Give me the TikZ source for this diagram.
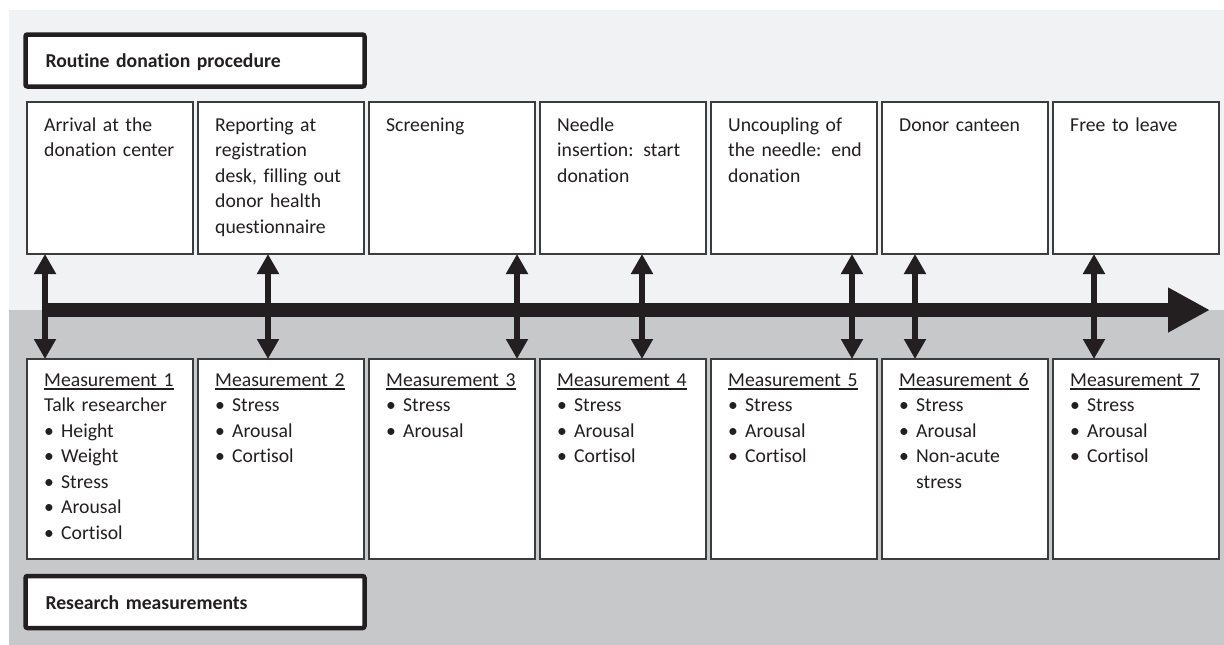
\documentclass[tikz,border=0pt]{standalone}
\usepackage{fontspec}
\setmainfont{Carlito}[Ligatures = NoCommon]
\usetikzlibrary{arrows.meta}
\definecolor{bgtop}{HTML}{F1F2F4}
\definecolor{bgbot}{HTML}{C7C8CA}
\definecolor{ink}{HTML}{231F20}
\definecolor{edge}{HTML}{3C3C3C}
\newcommand\fs{\fontsize{19.7}{25.5}\selectfont}
\newcommand\itm[1]{\makebox[17pt][l]{\textbullet}#1}
\newcommand\uln[1]{\setbox0\hbox{#1}\rlap{\rule[-3.5pt]{\wd0}{1.6pt}}\box0}
\tikzset{stepbox/.style = {draw = edge, line width = 1.3pt, fill = white, minimum width = 166pt, inner sep = 0, outer sep = 0, anchor = north west}}
\tikzset{txt/.style = {anchor = north west, inner sep = 0, text width = 150pt, align = left, text = ink, font = \fs, execute at begin node = \rule{0pt}{20pt}}}
\tikzset{titlebox/.style = {draw = ink, line width = 4.5pt, rounded corners = 2pt, fill = white, anchor = north west, outer sep = 0, minimum height = 52pt, text width = 299pt, inner xsep = 20pt, align = left, text height = 14pt, text depth = 0pt, font = \fs\bfseries, text = ink}}
\tikzset{dbl/.style = {draw = ink, line width = 6pt, > = {Triangle[width = 21pt, length = 20pt]}, <->}}

\begin{document}
\begin{tikzpicture}[x = 1pt, y = -1pt]
    \useasboundingbox (0, 0) rectangle (1224, 645);
    \fill[bgtop] (9, 10) rectangle (1224, 310);
    \fill[bgbot] (9, 310) rectangle (1224, 645);

    \node[titlebox] (rdp) at (25.5, 34.5) {Routine donation procedure};
    \node[titlebox] (rm) at (25.5, 576) {Research measurements};

    \foreach \i in {1,...,7} {
      \node[stepbox, minimum height = 152pt] (t\i) at ({27 + 171*(\i-1)}, 102) {};
      \node[stepbox, minimum height = 200pt] (m\i) at ({27 + 171*(\i-1)}, 359) {};
    }

    % timeline
    \coordinate (tl0) at (43, 310);
    \coordinate (tl1) at (1210, 310);
    \draw[ink, line width = 14pt, -{Triangle[width = 42pt, length = 42pt]}] (tl0) -- (tl1);

    \foreach \i/\x in {1/45, 2/268, 3/517, 4/642, 5/852, 6/915, 7/1094}
      \coordinate (a\i) at (\x, 310);
    \foreach \i in {1,...,7}
      \draw[dbl] (t\i.south -| a\i) -- (m\i.north -| a\i);

    % routine steps
    \node[txt] (t1l) at (44, 111) {Arrival at the\\donation center};
    \node[txt] (t2l) at (215, 111) {Reporting at\\registration\\desk, filling out\\donor health\\questionnaire};
    \node[txt] (t3l) at (386, 111) {Screening};
    \node[txt] (t4l) at (557, 111) {Needle\\insertion: start\\donation};
    \node[txt] (t5l) at (728, 111) {Uncoupling of\\the needle: end\\donation};
    \node[txt] (t6l) at (899, 111) {Donor canteen};
    \node[txt] (t7l) at (1070, 111) {Free to leave};

    % measurements
    \node[txt] (m1l) at (44, 366) {\uln{Measurement 1}\\Talk researcher\\\itm{Height}\\\itm{Weight}\\\itm{Stress}\\\itm{Arousal}\\\itm{Cortisol}};
    \node[txt] (m2l) at (215, 366) {\uln{Measurement 2}\\\itm{Stress}\\\itm{Arousal}\\\itm{Cortisol}};
    \node[txt] (m3l) at (386, 366) {\uln{Measurement 3}\\\itm{Stress}\\\itm{Arousal}};
    \node[txt] (m4l) at (557, 366) {\uln{Measurement 4}\\\itm{Stress}\\\itm{Arousal}\\\itm{Cortisol}};
    \node[txt] (m5l) at (728, 366) {\uln{Measurement 5}\\\itm{Stress}\\\itm{Arousal}\\\itm{Cortisol}};
    \node[txt] (m6l) at (899, 366) {\uln{Measurement 6}\\\itm{Stress}\\\itm{Arousal}\\\itm{Non-acute}\\\hspace*{17pt}stress};
    \node[txt] (m7l) at (1070, 366) {\uln{Measurement 7}\\\itm{Stress}\\\itm{Arousal}\\\itm{Cortisol}};
\end{tikzpicture}
\end{document}
